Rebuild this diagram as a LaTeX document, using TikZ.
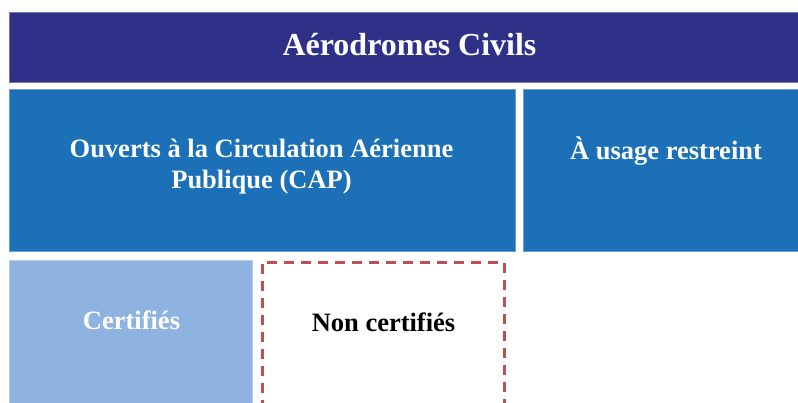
\documentclass[tikz,border=0pt]{standalone}
\usepackage{fontspec}
\setmainfont{Liberation Serif}
\definecolor{navy}{RGB}{46,49,135}
\definecolor{capblue}{RGB}{27,112,184}
\definecolor{lightblue}{RGB}{143,179,224}
\definecolor{dashred}{RGB}{192,80,77}
\begin{document}
\begin{tikzpicture}[x=1pt,y=-1pt,
  box/.style={rectangle, inner sep=0pt, outer sep=0pt, anchor=north west,
    fill=#1, draw=#1!65!white, line width=0.6pt},
  dashbox/.style={rectangle, inner sep=0pt, outer sep=0pt, anchor=north west,
    draw=dashred, line width=3pt, dash pattern=on 10pt off 7pt},
  lbl/.style={font=\fontsize{26.5}{31}\selectfont\bfseries, text=white, align=center, inner sep=0pt}]
\useasboundingbox (0,0) rectangle (798,402);
\clip (0,0) rectangle (798,402);
% boxes
\node[box=navy, minimum width=801pt, minimum height=70pt] (civils) at (9,12){};
\node[box=capblue, minimum width=506pt, minimum height=162pt] (cap) at (9,89){};
\node[box=capblue, minimum width=287pt, minimum height=162pt] (restreint) at (523,89){};
\node[box=lightblue, minimum width=243pt, minimum height=160pt] (certif) at (9,260){};
\node[dashbox, minimum width=242pt, minimum height=160pt] (noncertif) at (262,262){};
% labels
\node[lbl, anchor=base, font=\fontsize{32}{38}\selectfont\bfseries] (civilstxt) at (409.5,55){Aérodromes Civils};
\node[lbl, anchor=base] (captxt) at (261.5,188){Ouverts à la Circulation Aérienne\\Publique (CAP)};
\node[lbl, anchor=base] (restreinttxt) at (666,159){À usage restreint};
\node[lbl, anchor=base] (certiftxt) at (131.5,329){Certifiés};
\node[lbl, anchor=base, text=black] (noncertiftxt) at (383.5,331){Non certifiés};
\end{tikzpicture}
\end{document}
